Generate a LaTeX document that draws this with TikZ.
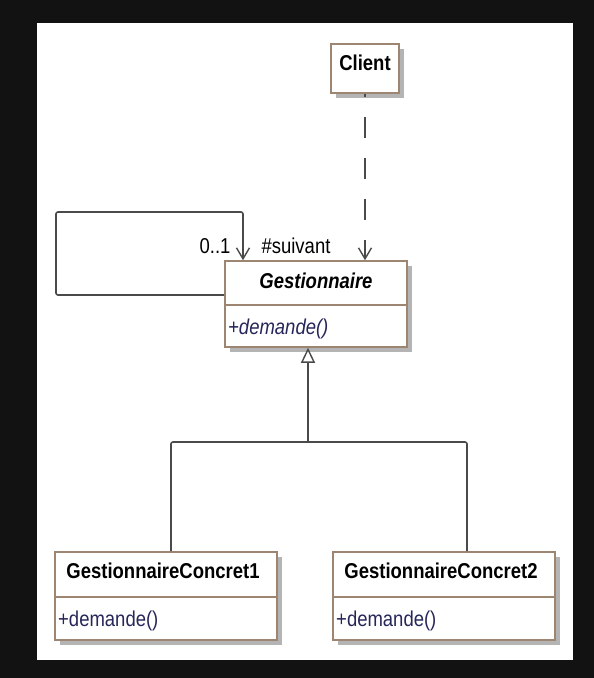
\documentclass[tikz,border=0pt]{standalone}
\usepackage{fontspec}
\setmainfont{Liberation Sans}[FakeStretch=0.86]
\usetikzlibrary{arrows.meta,shadows}
\definecolor{bgdark}{HTML}{121212}
\definecolor{boxline}{HTML}{9C8672}
\definecolor{conn}{HTML}{4A4A4A}
\definecolor{meth}{HTML}{26265A}
\definecolor{shade}{HTML}{B4B4B4}
\tikzset{
  cls/.style={draw=boxline, line width=1.6pt, fill=white, inner sep=0pt,
    drop shadow={shadow xshift=5pt, shadow yshift=-5pt, fill=shade, opacity=1}},
  sepline/.style={draw=boxline, line width=1.3pt},
  ttl/.style={font=\fontsize{21.5}{25}\selectfont\bfseries, text=black, anchor=base, inner sep=0pt},
  mth/.style={font=\fontsize{21.5}{25}\selectfont, text=meth, anchor=base west, inner sep=0pt},
  lbl/.style={font=\fontsize{21.5}{25}\selectfont, text=black, anchor=base, inner sep=0pt},
  conline/.style={draw=conn, line width=1.6pt, rounded corners=2pt},
  deparrow/.style={-{Straight Barb[length=11pt, width=13pt, line width=1.4pt]}},
  genarrow/.style={-{Triangle[open, length=15pt, width=14pt, line width=1.4pt, fill=white]}}
}
\begin{document}
\begin{tikzpicture}[x=1pt, y=-1pt]
\fill[bgdark] (0,0) rectangle (594,678);
\useasboundingbox (0,0) rectangle (594,678);
\fill[white] (37,23) rectangle (573,660);

% Client
\node[cls, minimum width=68pt, minimum height=49pt] (c) at (365,68.5) {};
\node[ttl] (ct) at (365,70) {Client};

% Gestionnaire
\node[cls, minimum width=182pt, minimum height=86pt] (g) at (316,304) {};
\draw[sepline] (g.west |- 0,305) -- (g.east |- 0,305);
\node[ttl, font=\fontsize{21.5}{25}\selectfont\bfseries\itshape] (gt) at (316,288) {Gestionnaire};
\node[mth, font=\fontsize{21.5}{25}\selectfont\itshape] (gm) at (228,334) {+demande()};

% GestionnaireConcret1
\node[cls, minimum width=222pt, minimum height=88pt] (g1) at (166,596) {};
\draw[sepline] (g1.west |- 0,597) -- (g1.east |- 0,597);
\node[ttl] (g1t) at (163,578) {GestionnaireConcret1};
\node[mth] (g1m) at (58,626) {+demande()};

% GestionnaireConcret2
\node[cls, minimum width=222pt, minimum height=88pt] (g2) at (444,596) {};
\draw[sepline] (g2.west |- 0,597) -- (g2.east |- 0,597);
\node[ttl] (g2t) at (441,578) {GestionnaireConcret2};
\node[mth] (g2m) at (336,626) {+demande()};

% dependency Client -> Gestionnaire
\draw[conline, deparrow, dash pattern=on 21pt off 20pt, dash phase=18pt]
  (c.south) -- (c.south |- g.north);

% self association
\coordinate (l1) at (56,212);
\coordinate (l2) at (243,212);
\draw[conline, deparrow] (g.west |- 0,295) -| (l1) -- (l2) -- (l2 |- g.north);
\node[lbl] (m1) at (215,253) {0..1};
\node[lbl] (m2) at (296,253) {\#suivant};

% generalization
\coordinate (j) at (308,442);
\draw[conline] (g1.north -| 171,0) |- (j);
\draw[conline] (g2.north -| 467,0) |- (j);
\draw[conline, rounded corners=0pt, genarrow] (j) -- (j |- g.south);
\end{tikzpicture}
\end{document}
